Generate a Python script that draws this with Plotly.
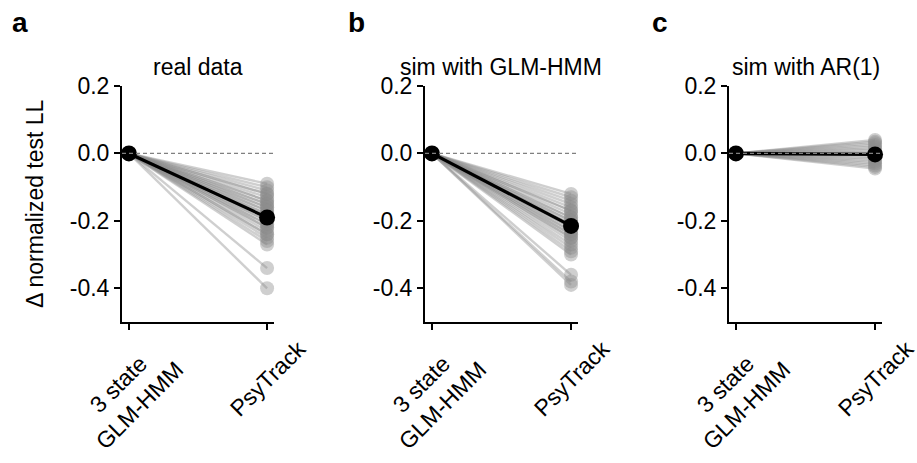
import plotly.graph_objects as go

# ---------------- data ----------------
categories = ["3 state<br>GLM-HMM", "PsyTrack"]
category_pos = [0, 1]
panel_letters = ["a", "b", "c"]
panel_titles = ["real data", "sim with GLM-HMM", "sim with AR(1)"]
y_tick_vals = [0.2, 0.0, -0.2, -0.4]
y_tick_text = ["0.2", "0.0", "-0.2", "-0.4"]
y_label = "Δ normalized test LL"

# delta normalized test LL of PsyTrack relative to 3-state GLM-HMM (one per animal)
real_data = [-0.09, -0.10, -0.11, -0.12, -0.12, -0.13, -0.14, -0.14, -0.15, -0.15,
             -0.16, -0.16, -0.17, -0.17, -0.18, -0.18, -0.19, -0.19, -0.20, -0.20,
             -0.21, -0.21, -0.22, -0.22, -0.23, -0.24, -0.24, -0.25, -0.26, -0.27,
             -0.34, -0.40]
sim_glmhmm = [-0.12, -0.13, -0.14, -0.15, -0.16, -0.17, -0.17, -0.18, -0.19, -0.19,
              -0.20, -0.20, -0.21, -0.21, -0.22, -0.22, -0.23, -0.23, -0.24, -0.24,
              -0.25, -0.25, -0.26, -0.27, -0.28, -0.29, -0.30, -0.36, -0.38, -0.39]
sim_ar1 = [0.04, 0.035, 0.03, 0.025, 0.02, 0.015, 0.01, 0.005, 0.0, -0.005,
           -0.01, -0.015, -0.02, -0.025, -0.03, -0.035, -0.04, -0.045]
glmhmm_baseline = [0.0, 0.0, 0.0]
means = [-0.19, -0.215, -0.003]

panels = [real_data, sim_glmhmm, sim_ar1]

# ---------------- layout geometry ----------------
W, H = 917, 463
x_px = [(122, 274), (425, 578), (729, 882)]
y_px = (86, 322)
ydom = [1 - y_px[1] / H, 1 - y_px[0] / H]
FONT = "Liberation Sans, Arial, Helvetica, sans-serif"
GRAY = "rgba(140,140,140,0.42)"

fig = go.Figure()
annotations = []
shapes = []

for i, vals in enumerate(panels):
    xa = "x" if i == 0 else f"x{i+1}"
    ya = "y" if i == 0 else f"y{i+1}"
    for v in vals:
        fig.add_trace(go.Scatter(
            x=category_pos, y=[glmhmm_baseline[i], v], mode="lines+markers",
            line=dict(color=GRAY, width=2.4),
            marker=dict(size=14, color=GRAY, line=dict(width=0)),
            xaxis=xa, yaxis=ya, showlegend=False, cliponaxis=False,
            hoverinfo="skip"))
    fig.add_trace(go.Scatter(
        x=category_pos, y=[glmhmm_baseline[i], means[i]], mode="lines+markers",
        line=dict(color="black", width=3.2),
        marker=dict(size=16, color="black"),
        xaxis=xa, yaxis=ya, showlegend=False, cliponaxis=False))

    shapes.append(dict(type="line", xref=xa, yref=ya, x0=-0.05, x1=1.05, y0=0, y1=0,
                       line=dict(color="#808080", width=1.3, dash="4px,3px"),
                       layer="above"))

    xdom = [x_px[i][0] / W, x_px[i][1] / W]
    axis_common = dict(showline=True, linecolor="black", linewidth=2,
                       ticks="outside", ticklen=6, tickwidth=1.8, tickcolor="black",
                       showgrid=False, zeroline=False, automargin=False,
                       tickfont=dict(family=FONT, size=23, color="black"))
    fig.layout[("xaxis" if i == 0 else f"xaxis{i+1}")] = dict(
        domain=xdom, range=[-0.05, 1.05], anchor=ya,
        tickvals=category_pos, showticklabels=False, **axis_common)
    fig.layout[("yaxis" if i == 0 else f"yaxis{i+1}")] = dict(
        domain=ydom, range=[-0.5, 0.2], anchor=xa,
        tickvals=y_tick_vals, ticktext=y_tick_text, **axis_common)

    # rotated category labels, centred under their ticks (matplotlib ha='center')
    for pos, lab in zip(category_pos, categories):
        annotations.append(dict(text=lab, x=pos, xref=xa, y=1 - 333 / H, yref="paper",
                                showarrow=False, textangle=-45, align="center",
                                xanchor="center", yanchor="top",
                                font=dict(family=FONT, size=23, color="black")))

    cx = (x_px[i][0] + x_px[i][1]) / 2 / W
    annotations.append(dict(text=panel_titles[i], x=cx, y=1 - 67 / H, xref="paper",
                            yref="paper", showarrow=False, xanchor="center",
                            yanchor="middle",
                            font=dict(family=FONT, size=23, color="black")))
    lx = [20, 356, 660][i]
    annotations.append(dict(text=f"<b>{panel_letters[i]}</b>", x=lx / W, y=1 - 22 / H,
                            xref="paper", yref="paper", showarrow=False,
                            xanchor="center", yanchor="middle",
                            font=dict(family=FONT, size=28, color="black")))

annotations.append(dict(text=y_label, x=35 / W, y=1 - 204 / H, xref="paper",
                        yref="paper", showarrow=False, textangle=-90,
                        xanchor="center", yanchor="middle",
                        font=dict(family=FONT, size=23, color="black")))

fig.update_layout(width=W, height=H, margin=dict(l=0, r=0, t=0, b=0, autoexpand=False),
                  paper_bgcolor="white", plot_bgcolor="white",
                  annotations=annotations, shapes=shapes)

fig.write_html("out.html", config={"displayModeBar": False},
               post_script="document.body.style.margin='0px';document.body.style.overflow='hidden';")
